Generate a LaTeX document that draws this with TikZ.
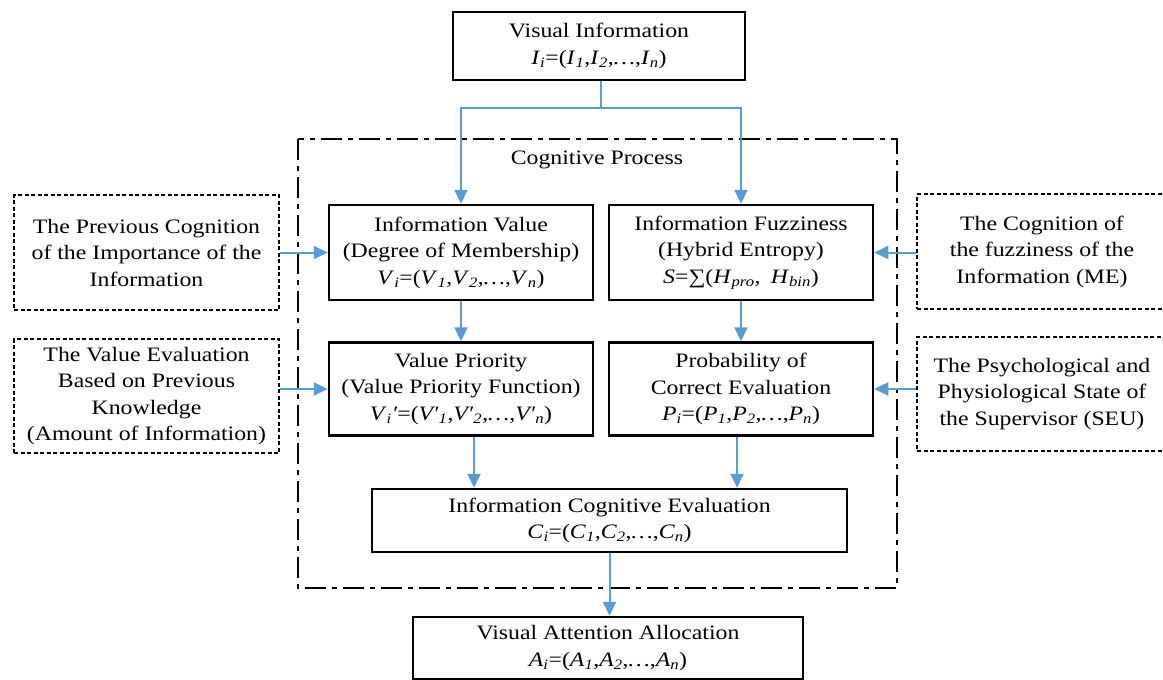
\documentclass[tikz,border=0pt]{standalone}
\usepackage{fontspec}
\setmainfont{Liberation Serif}[FakeStretch=1.16]
\usetikzlibrary{arrows.meta}
\definecolor{arrblue}{RGB}{91,155,213}
\newcommand{\vs}[2]{\textit{#1}\textsubscript{\textit{#2}}}
\newcommand{\mainf}{\fontsize{20.5}{26.5}\selectfont}
\tikzset{
  box/.style={draw, line width=2.5pt, align=center, inner sep=0pt, font=\mainf},
  dbox/.style={draw, line width=1.8pt, dash pattern=on 4pt off 2.5pt, align=center, inner sep=0pt, font=\mainf},
  arr/.style={draw=arrblue, line width=2pt, -{Triangle[length=14pt,width=13pt]}},
  procframe/.style={draw, line width=2.3pt, dash pattern=on 21pt off 6pt on 5pt off 6pt},
  lbl/.style={inner sep=0pt, font=\mainf},
}
\begin{document}
\begin{tikzpicture}[x=1pt,y=-1pt]
\useasboundingbox (0,0) rectangle (1163,680);
\clip (0,0) rectangle (1163,680);

% cognitive process frame
\draw[procframe] (298,139) rectangle (897,588);
\node[lbl] (cp) at (597,160) {Cognitive Process};

% main boxes
\node[box, minimum width=292pt, minimum height=68pt] (vi) at (599,46)
  {Visual Information\\ \vs{I}{i}=(\vs{I}{1},\vs{I}{2},\textit{…},\vs{I}{n})};
\node[box, minimum width=264pt, minimum height=95pt] (iv) at (461,252.5)
  {Information Value\\(Degree of Membership)\\ \vs{V}{i}=(\vs{V}{1},\vs{V}{2},\textit{…},\vs{V}{n})};
\node[box, minimum width=264pt, minimum height=95pt] (if) at (741,252.5)
  {Information Fuzziness\\(Hybrid Entropy)\\ \textit{S}=∑(\vs{H}{pro},\enspace\vs{H}{bin})};
\node[box, minimum width=264pt, minimum height=93pt] (vp) at (461,389)
  {Value Priority\\(Value Priority Function)\\ \vs{V}{i}\textit{′}=(\textit{V′}\textsubscript{\textit{1}},\textit{V′}\textsubscript{\textit{2}},\textit{…},\textit{V′}\textsubscript{\textit{n}})};
\node[box, minimum width=264pt, minimum height=93pt] (pc) at (741,389)
  {Probability of\\Correct Evaluation\\ \vs{P}{i}=(\vs{P}{1},\vs{P}{2},\textit{…},\vs{P}{n})};
\node[box, minimum width=475pt, minimum height=63pt] (ice) at (609.5,520.5)
  {Information Cognitive Evaluation\\ \vs{C}{i}=(\vs{C}{1},\vs{C}{2},\textit{…},\vs{C}{n})};
\node[box, minimum width=390pt, minimum height=62pt] (va) at (608,648)
  {Visual Attention Allocation\\ \vs{A}{i}=(\vs{A}{1},\vs{A}{2},\textit{…},\vs{A}{n})};

% side boxes
\node[dbox, minimum width=265pt, minimum height=115pt] (l1) at (146.5,252.5)
  {The Previous Cognition\\of the Importance of the\\Information};
\node[dbox, minimum width=265pt, minimum height=114pt] (l2) at (146.5,396)
  {The Value Evaluation\\Based on Previous\\Knowledge\\(Amount of Information)};
\node[dbox, minimum width=250pt, minimum height=115pt] (r1) at (1042,251.5)
  {The Cognition of\\the fuzziness of the\\Information (ME)};
\node[dbox, minimum width=250pt, minimum height=114pt] (r2) at (1042,394)
  {The Psychological and\\Physiological State of\\the Supervisor (SEU)};

% connectors
\coordinate (jy) at (601,108);
\draw[arr] (vi.south -| jy) |- (iv.north |- jy) -- (iv.north);
\draw[arr] (vi.south -| jy) |- (if.north |- jy) -- (if.north);
\draw[arr] (iv.south) -- (vp.north);
\draw[arr] (if.south) -- (pc.north);
\draw[arr] ([xshift=13pt]vp.south) -- ([xshift=13pt]vp.south |- ice.north);
\draw[arr] ([xshift=-4pt]pc.south) -- ([xshift=-4pt]pc.south |- ice.north);
\draw[arr] (ice.south) -- (ice.south |- va.north);
\draw[arr] (l1.east |- iv.west) -- (iv.west);
\draw[arr] (l2.east |- vp.west) -- (vp.west);
\draw[arr] (r1.west |- if.east) -- (if.east);
\draw[arr] (r2.west |- pc.east) -- (pc.east);
\end{tikzpicture}
\end{document}
